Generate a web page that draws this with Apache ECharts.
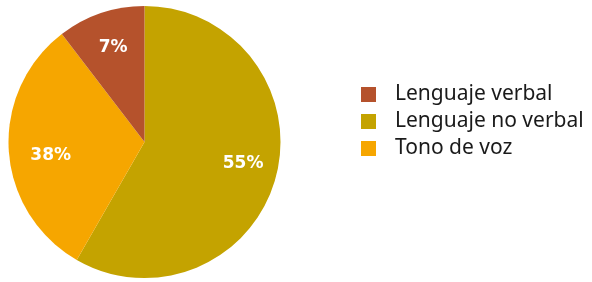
<!DOCTYPE html>
<html><head><meta charset="utf-8">
<script src="https://cdn.jsdelivr.net/npm/echarts@6/dist/echarts.min.js"></script>
<style>html,body{margin:0;padding:0;background:#fff}#c{width:592px;height:282px}</style>
</head><body><div id="c"></div>
<script>
// Slice order clockwise from 12 o'clock
const categories = ['Lenguaje no verbal', 'Tono de voz', 'Lenguaje verbal'];
// Slice sizes as drawn
const values = [58.3, 31.3, 10.4];
// Percentages printed on the slices
const printedLabels = ['55%', '38%', '7%'];
const legendOrder = ['Lenguaje verbal', 'Lenguaje no verbal', 'Tono de voz'];
const colors = {'Lenguaje verbal': '#B5522C', 'Lenguaje no verbal': '#C4A300', 'Tono de voz': '#F6A600'};
const labelOffsets = [[1, -4], [7, 7], [1, 1]];

const chart = echarts.init(document.getElementById('c'), null, {renderer: 'canvas'});
const data = categories.map((n, i) => ({name: n, value: values[i], itemStyle: {color: colors[n]}}));
const labelData = categories.map((n, i) => ({name: n, value: values[i], label: {formatter: printedLabels[i], offset: labelOffsets[i]}}));
chart.setOption({
  animation: false,
  legend: {
    data: legendOrder,
    orient: 'vertical',
    left: 356,
    top: 79,
    itemWidth: 15,
    itemHeight: 15,
    itemGap: 6,
    icon: 'rect',
    textStyle: {fontFamily: 'Noto Sans', fontSize: 21, lineHeight: 21, color: '#1a1a1a', padding: [0, 0, 0, 14]}
  },
  series: [
    {
      type: 'pie',
      center: [144.5, 142],
      radius: [0, 136],
      startAngle: 90,
      clockwise: true,
      silent: true,
      label: {show: false},
      labelLine: {show: false},
      data: data
    },
    {
      type: 'pie',
      center: [144.5, 142],
      radius: [60, 136],
      startAngle: 90,
      clockwise: true,
      silent: true,
      itemStyle: {color: 'rgba(0,0,0,0)'},
      label: {show: true, position: 'inside', color: '#fff', fontFamily: 'DejaVu Sans', fontWeight: 'bold', fontSize: 17},
      labelLine: {show: false},
      data: labelData
    }
  ]
});
</script></body></html>
